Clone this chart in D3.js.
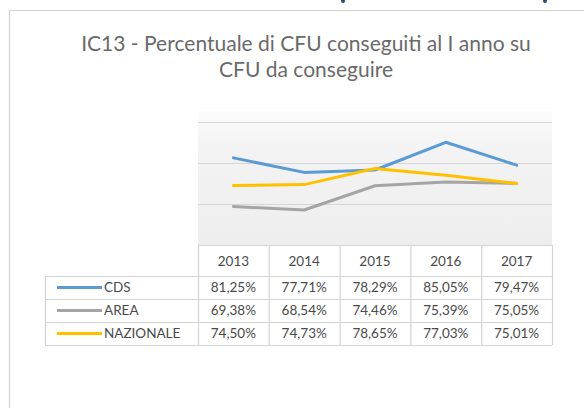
<!DOCTYPE html>
<html>
<head>
<meta charset="utf-8">
<script src="https://cdn.jsdelivr.net/npm/d3@7/dist/d3.min.js"></script>
<style>
  html, body { margin: 0; padding: 0; background: #fff; }
  svg { display: block; }
  text { font-family: Lato, "Open Sans", sans-serif; }
</style>
</head>
<body>
<svg id="chart" width="584" height="408"></svg>
<script>
const years = ["2013", "2014", "2015", "2016", "2017"];
const cds = [81.25, 77.71, 78.29, 85.05, 79.47];
const area = [69.38, 68.54, 74.46, 75.39, 75.05];
const nazionale = [74.50, 74.73, 78.65, 77.03, 75.01];
const seriesNames = ["CDS", "AREA", "NAZIONALE"];
const yTicks = [60, 70, 80, 90];
const titleLines = ["IC13 - Percentuale di CFU conseguiti al I anno su", "CFU da conseguire"];

const series = [
  { name: seriesNames[0], values: cds, color: "#5b9bd5" },
  { name: seriesNames[1], values: area, color: "#a5a5a5" },
  { name: seriesNames[2], values: nazionale, color: "#ffc000" }
];

const fmt = v => d3.format(".2f")(v).replace(".", ",") + "%";

const svg = d3.select("#chart");
const W = 584, H = 408;

svg.append("rect").attr("width", W).attr("height", H).attr("fill", "#fff");

// chart frame
svg.append("path")
  .attr("d", `M9.5,${H} V10.5 H${W}`)
  .attr("fill", "none").attr("stroke", "#d4d4d4").attr("stroke-width", 1.2);

// cropped heading fragments at very top (tiny marks only)
svg.append("ellipse").attr("cx", 343).attr("cy", 1).attr("rx", 2).attr("ry", 2).attr("fill", "#2f4a7a");
svg.append("ellipse").attr("cx", 545).attr("cy", 1).attr("rx", 2).attr("ry", 2).attr("fill", "#2f4a7a");

// title
const titleG = svg.append("g");
const t1 = titleG.append("text").attr("x", 306).attr("y", 51)
  .attr("text-anchor", "middle").attr("fill", "#6a6a6a").attr("font-size", 18).text(titleLines[0]);
const targetW = 450;
const w1 = t1.node().getComputedTextLength();
const fs = 18 * targetW / w1;
t1.attr("font-size", fs);
titleG.append("text").attr("x", 306).attr("y", 77)
  .attr("text-anchor", "middle").attr("fill", "#6a6a6a").attr("font-size", fs).text(titleLines[1]);

// plot area
const left = 198, right = 552;
const plotTop = 111, axisY = 245;
const x = d3.scaleBand().domain(years).range([left, right]);
const y = d3.scaleLinear().domain([60, 90]).range([axisY, 122]);

const defs = svg.append("defs");
const grad = defs.append("linearGradient").attr("id", "bg").attr("x1", 0).attr("y1", 0).attr("x2", 0).attr("y2", 1);
grad.append("stop").attr("offset", "0%").attr("stop-color", "#fbfbfb");
grad.append("stop").attr("offset", "30%").attr("stop-color", "#f3f3f3");
grad.append("stop").attr("offset", "100%").attr("stop-color", "#eeeeee");

svg.append("rect").attr("x", left).attr("y", plotTop)
  .attr("width", right - left).attr("height", axisY - plotTop)
  .attr("fill", "url(#bg)");

// gridlines
svg.append("g").selectAll("line").data(yTicks.slice(1)).join("line")
  .attr("x1", left).attr("x2", right)
  .attr("y1", d => Math.round(y(d)) + 0.5).attr("y2", d => Math.round(y(d)) + 0.5)
  .attr("stroke", "#d6d6d6").attr("stroke-width", 1.2);

// lines
const line = d3.line()
  .x((d, i) => x(years[i]) + x.bandwidth() / 2)
  .y(d => y(d));

svg.append("g").selectAll("path").data(series).join("path")
  .attr("d", d => line(d.values))
  .attr("fill", "none")
  .attr("stroke", d => d.color)
  .attr("stroke-width", 3)
  .attr("stroke-linejoin", "round")
  .attr("stroke-linecap", "round");

// data table
const tableLeft = 45;
const headerBottom = 276;
const rowH = 23;
const tableBottom = headerBottom + rowH * series.length;
const tg = svg.append("g");
const border = "#d4d4d4";
const txt = "#4a4a4a";

tg.append("line").attr("x1", left).attr("x2", right)
  .attr("y1", axisY + 0.5).attr("y2", axisY + 0.5).attr("stroke", border).attr("stroke-width", 1.2);

const colEdges = years.map(yr => x(yr)).concat([right]);
tg.selectAll("line.v").data(colEdges).join("line").attr("class", "v")
  .attr("x1", d => d + 0.5).attr("x2", d => d + 0.5)
  .attr("y1", axisY).attr("y2", tableBottom)
  .attr("stroke", border).attr("stroke-width", 1.2);

tg.append("line").attr("x1", tableLeft + 0.5).attr("x2", tableLeft + 0.5)
  .attr("y1", headerBottom).attr("y2", tableBottom)
  .attr("stroke", border).attr("stroke-width", 1.2);

const rowLines = d3.range(series.length + 1).map(i => headerBottom + i * rowH);
tg.selectAll("line.h").data(rowLines).join("line").attr("class", "h")
  .attr("x1", tableLeft).attr("x2", right)
  .attr("y1", d => d + 0.5).attr("y2", d => d + 0.5)
  .attr("stroke", border).attr("stroke-width", 1.2);

tg.selectAll("text.yr").data(years).join("text").attr("class", "yr")
  .attr("x", d => x(d) + x.bandwidth() / 2)
  .attr("y", 266)
  .attr("text-anchor", "middle")
  .attr("fill", txt).attr("font-size", 13.5)
  .text(d => d);

series.forEach((s, r) => {
  const cy = headerBottom + r * rowH + rowH / 2;
  tg.append("line").attr("x1", 57).attr("x2", 102).attr("y1", cy).attr("y2", cy)
    .attr("stroke", s.color).attr("stroke-width", 3);
  tg.append("text").attr("x", 104).attr("y", cy + 4.8)
    .attr("fill", txt).attr("font-size", 13.5).text(s.name);
  tg.selectAll(null).data(s.values).join("text")
    .attr("x", (d, i) => x(years[i]) + x.bandwidth() / 2)
    .attr("y", cy + 4.8)
    .attr("text-anchor", "middle")
    .attr("fill", txt).attr("font-size", 13.5)
    .text(d => fmt(d));
});
</script>
</body>
</html>
